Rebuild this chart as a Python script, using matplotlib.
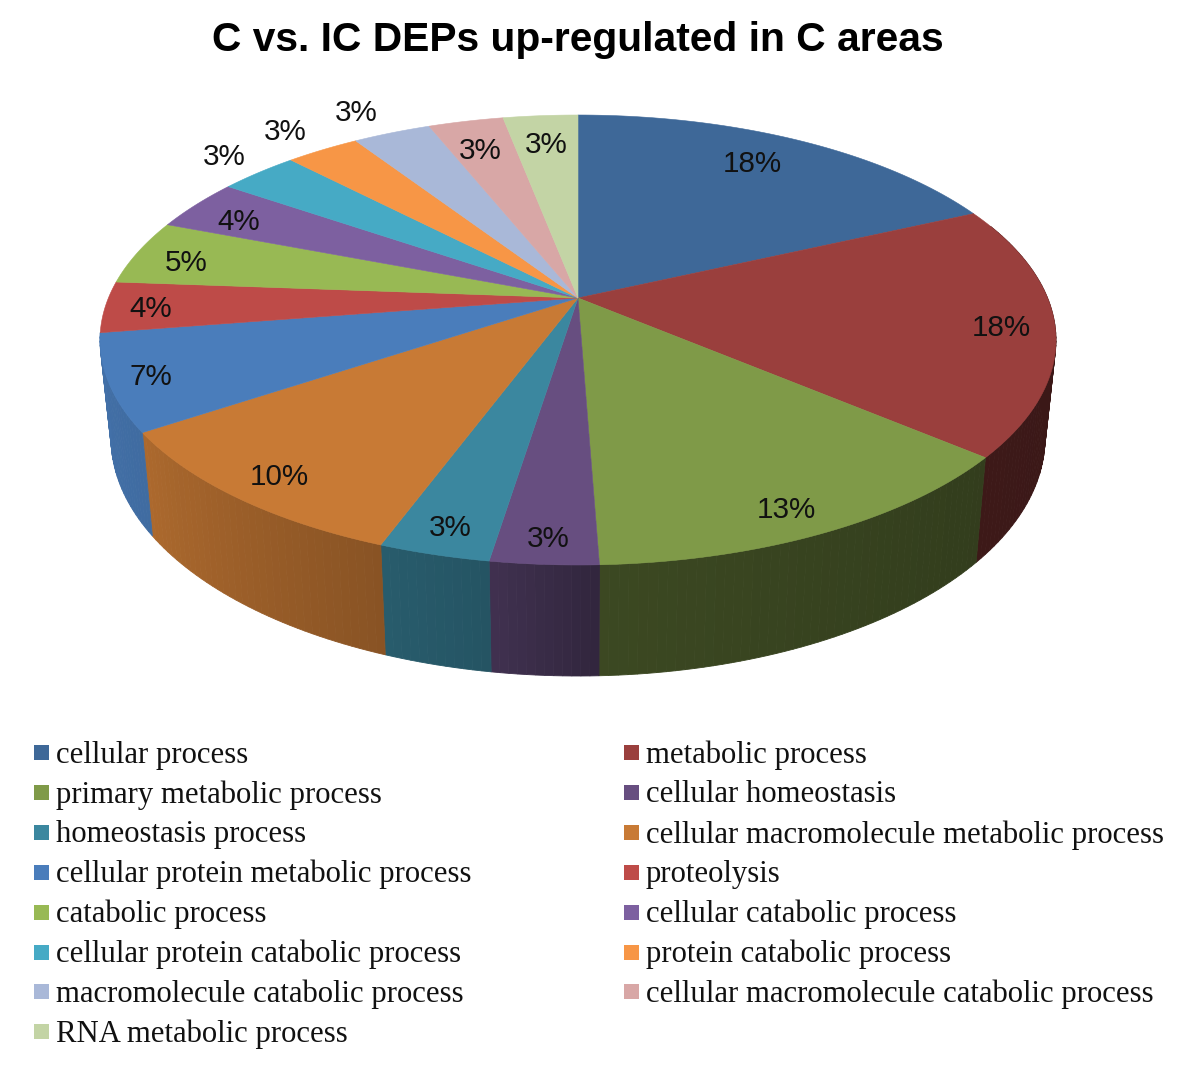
import numpy as np
import matplotlib
matplotlib.use('Agg')
import matplotlib.pyplot as plt
from matplotlib.patches import Rectangle

categories = ['cellular process', 'metabolic process', 'primary metabolic process', 'cellular homeostasis',
              'homeostasis process', 'cellular macromolecule metabolic process',
              'cellular protein metabolic process', 'proteolysis', 'catabolic process',
              'cellular catabolic process', 'cellular protein catabolic process', 'protein catabolic process',
              'macromolecule catabolic process', 'cellular macromolecule catabolic process',
              'RNA metabolic process']
values = [18.3, 17.8, 13.3, 3.1, 3.2, 10.0, 6.8, 3.6, 4.6, 3.7, 3.2, 3.0, 3.2, 3.1, 3.1]
colors = ['#3E6898', '#9A3F3D', '#7F9A48', '#674E80', '#3B879F', '#C87A35', '#4A7DBB', '#BE4B48',
          '#98B954', '#7D60A0', '#46AAC5', '#F79646', '#A9B8D8', '#D8A7A6', '#C3D4A5']

# where the percent labels sit, in pixels
label_xy = [(752, 164), (1001, 328), (786, 510), (548, 539), (450, 528), (279, 477), (151, 377), (151, 309),
            (186, 263), (239, 222), (224, 157), (285, 132), (356, 113), (480, 151), (546, 145)]

# fake 3D geometry, pixels
apex = (578, 298)
top_ell = (578, 340, 478, 225)
bot_ell = (578, 438, 467, 238)


def warp(theta):
    # foreshortening of the tilted disc
    return theta - np.radians(11) * np.sin(theta)


def rim(theta, ell):
    t = warp(theta)
    return ell[0] + ell[2] * np.sin(t), ell[1] - ell[3] * np.cos(t)


def wall_shade(theta):
    t = np.degrees(warp(theta))
    return np.interp(t, [100, 125, 177, 190, 204, 245, 272], [.38, .40, .47, .62, .68, .86, .90])


fig = plt.figure(figsize=(12, 10.68), dpi=100)
ax = fig.add_axes([0, 0, 1, 1])
ax.set_xlim(0, 1200)
ax.set_ylim(1068, 0)
ax.axis('off')

edges = 2 * np.pi * np.cumsum([0] + values) / sum(values)

# side wall, stops at the end of the 7% slice like the original
for i, c in enumerate(colors[:7]):
    a, b = max(edges[i], np.radians(70)), edges[i + 1]
    if b <= a:
        continue
    steps = np.linspace(a, b, max(2, int(np.degrees(b - a)) + 2))
    base = np.array(matplotlib.colors.to_rgb(c))
    for s0, s1 in zip(steps[:-1], steps[1:]):
        x0, y0 = rim(np.array([s0, s1]), top_ell)
        x1, y1 = rim(np.array([s1, s0]), bot_ell)
        col = base * wall_shade((s0 + s1) / 2)
        ax.fill(np.r_[x0, x1], np.r_[y0, y1], color=col, lw=0.6)

# top of the pie
for i, c in enumerate(colors):
    th = np.linspace(edges[i], edges[i + 1], 60)
    x, y = rim(th, top_ell)
    ax.fill(np.r_[apex[0], x], np.r_[apex[1], y], color=c, lw=0.4)

for v, (x, y) in zip(values, label_xy):
    ax.text(x, y, '%.0f%%' % v, ha='center', va='center', fontsize=21.3, family='Liberation Sans', color='#111111')

ax.text(578, 40, 'C vs. IC DEPs up-regulated in C areas', ha='center', va='center', fontsize=29.35,
        fontweight='bold', family='Liberation Sans', color='black')

# legend, filled row by row
for i, (name, c) in enumerate(zip(categories, colors)):
    col_x = 34 if i % 2 == 0 else 624
    row_y = 752 + 39.9 * (i // 2)
    ax.add_patch(Rectangle((col_x, row_y - 7), 15, 15, color=c, lw=0))
    ax.text(col_x + 22, row_y + 3, name, ha='left', va='center', fontsize=22.15, family='Liberation Serif', color='#111111')

plt.savefig('out.png', dpi=100)
